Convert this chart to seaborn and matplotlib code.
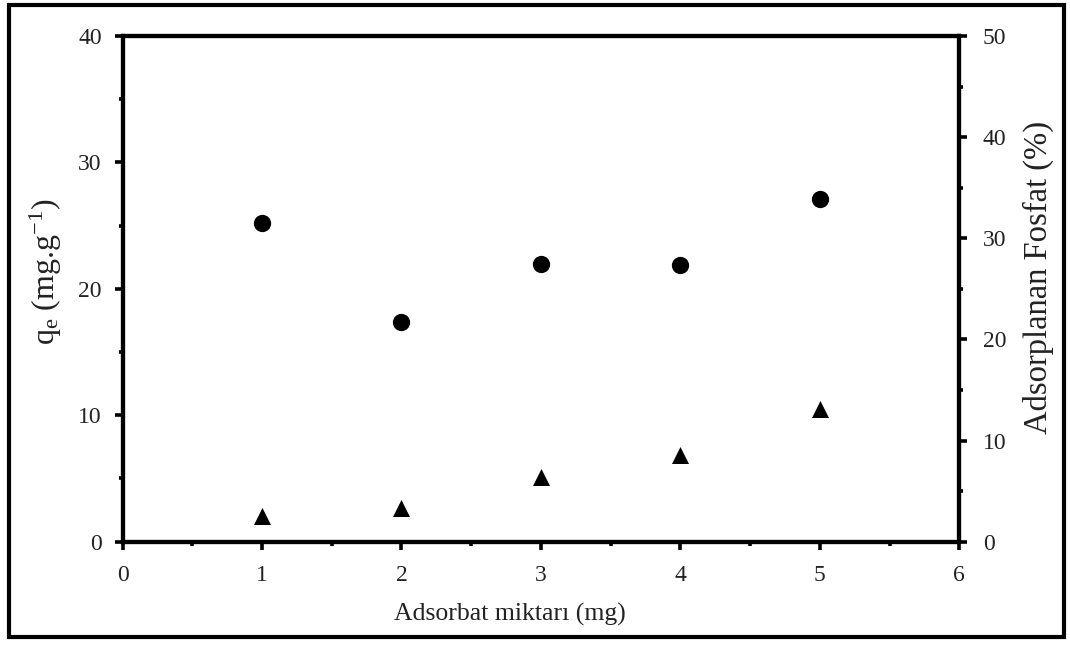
import matplotlib
matplotlib.use("Agg")
import matplotlib.pyplot as plt
from matplotlib.patches import Rectangle
from matplotlib.ticker import MultipleLocator
import pandas as pd
import seaborn as sns

# Adsorbent dose (mg)
dose = [1, 2, 3, 4, 5]
# Adsorption capacity q_e (mg/g), left axis
qe = [25.2, 17.4, 22.0, 21.9, 27.1]
# Adsorbed phosphate (%), right axis
removal = [2.5, 3.35, 6.4, 8.55, 13.1]

x_ticks = [0, 1, 2, 3, 4, 5, 6]
left_ticks = [0, 10, 20, 30, 40]
right_ticks = [0, 10, 20, 30, 40, 50]

df = pd.DataFrame({"dose": dose, "qe": qe, "removal": removal})

sns.set_theme(style="ticks")
plt.rcParams["font.family"] = ["Liberation Serif", "DejaVu Serif"]
plt.rcParams["mathtext.fontset"] = "custom"
plt.rcParams["mathtext.rm"] = "Liberation Serif"
plt.rcParams["mathtext.it"] = "Liberation Serif:italic"

fig = plt.figure(figsize=(10.7, 6.45), dpi=100)
ax = fig.add_axes([0.1145, 0.1602, 0.782, 0.7840])
ax2 = ax.twinx()

sns.scatterplot(data=df, x="dose", y="qe", ax=ax, marker="o", s=155,
                color="black", edgecolor="black", linewidth=0, zorder=3)
sns.scatterplot(data=df, x="dose", y="removal", ax=ax2, marker="^", s=150,
                color="black", edgecolor="black", linewidth=0, zorder=3)

ax.set_xlim(0, 6)
ax.set_ylim(0, 40)
ax2.set_ylim(0, 50)
ax.set_xticks(x_ticks)
ax.set_yticks(left_ticks)
ax2.set_yticks(right_ticks)
ax.xaxis.set_minor_locator(MultipleLocator(0.5))
ax.yaxis.set_minor_locator(MultipleLocator(5))
ax2.yaxis.set_minor_locator(MultipleLocator(5))

for a in (ax, ax2):
    for sp in a.spines.values():
        sp.set_visible(True)
        sp.set_linewidth(3)
        sp.set_color("black")
    a.tick_params(which="major", direction="out", length=6, width=2.6,
                  labelsize=17, color="black", labelcolor="#222222", pad=9)
    a.tick_params(which="minor", direction="out", length=3, width=2.6,
                  color="black")
    a.grid(False)

ax.tick_params(axis="x", which="major", pad=11)
ax2.tick_params(axis="y", which="major", pad=11)

ax.set_xlabel("Adsorbat miktarı (mg)", fontsize=18.5, color="#222222",
              labelpad=12)
ax.set_ylabel(r"q$_\mathregular{e}$ (mg.g$^\mathregular{-1}$)", fontsize=23,
              color="#222222", labelpad=10)
ax2.set_ylabel("Adsorplanan Fosfat (%)", fontsize=23.5, color="#222222",
               labelpad=12)
ax.xaxis.label.set_x(0.463)
ax.yaxis.label.set_y(0.533)
ax2.yaxis.label.set_y(0.523)

# outer frame around the whole figure
fig.patches.append(Rectangle((0.0082, 0.0125), 0.9866, 0.9795,
                             transform=fig.transFigure, fill=False,
                             edgecolor="black", linewidth=3))

fig.savefig("out.png", dpi=100)
